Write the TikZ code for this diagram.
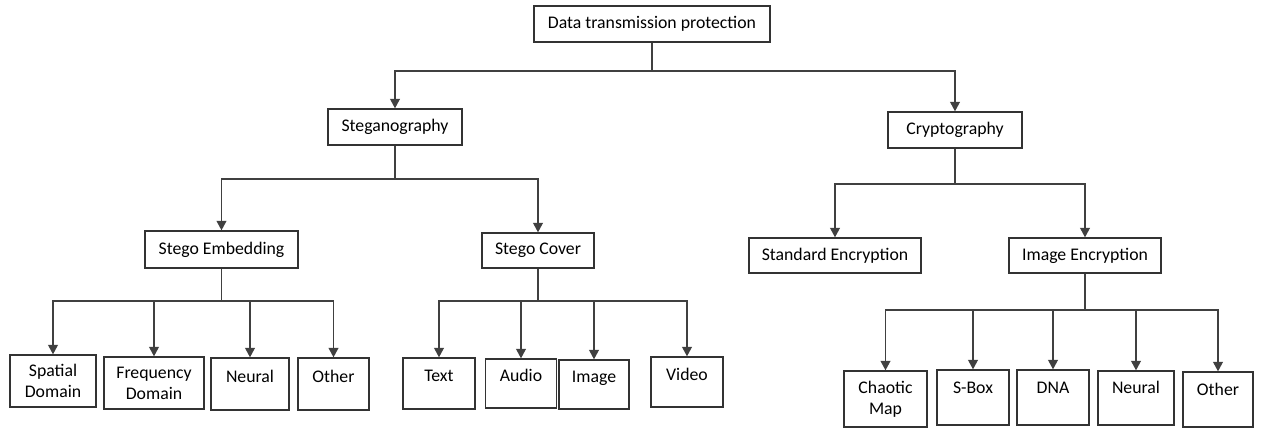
\documentclass[tikz,border=0pt]{standalone}
\usepackage{fontspec}
\setmainfont{Carlito}
\usetikzlibrary{arrows.meta}
\tikzset{
  box/.style={draw=black!80, line width=0.75pt, fill=white, font=\fontsize{10.1}{12}\selectfont, align=center, inner sep=2pt},
  boxsize/.style 2 args={minimum width=#1*0.02cm, minimum height=#2*0.02cm},
  uptext/.style={text height=8pt, text depth=#1},
  conn/.style={draw=black!75, line width=0.75pt, -{Triangle[width=5.6pt,length=5.4pt]}},
}
\begin{document}
\begin{tikzpicture}[x=0.02cm, y=-0.02cm]
  \useasboundingbox (0,0) rectangle (1261,428);
  % Root
  \node[box, boxsize={236}{36}] (root) at (652,24) {Data transmission protection};
  % Main branches
  \node[box, boxsize={134}{36}] (steg)  at (395,127) {Steganography};
  \node[box, boxsize={134}{36}] (crypt) at (955,130) {Cryptography};
  % Steganography branch
  \node[box, boxsize={153}{37}] (embed) at (221.5,249.5) {Stego Embedding};
  \node[box, boxsize={112}{35}] (cover) at (538,250.5) {Stego Cover};
  % Cryptography branch
  \node[box, boxsize={172}{35}] (stdenc) at (835,255.5) {Standard Encryption};
  \node[box, boxsize={152}{35}] (imgenc) at (1085,255.5) {Image Encryption};
  % Leaves under Stego Embedding
  \node[box, boxsize={86}{52}]  (spatial) at (53,381)    {Spatial\\Domain};
  \node[box, boxsize={100}{52}] (freq)    at (154,383)   {Frequency\\Domain};
  \node[box, boxsize={78}{52}, uptext=10pt] (eneural) at (250,384)   {Neural};
  \node[box, boxsize={71}{52}, uptext=10pt] (eother)  at (333.5,384) {Other};
  % Leaves under Stego Cover
  \node[box, boxsize={72}{51}, uptext=10pt] (text)  at (439,383.5)   {Text};
  \node[box, boxsize={71}{49}, uptext=10pt] (audio) at (521,383.5)   {Audio};
  \node[box, boxsize={70}{49}, uptext=10pt] (image) at (594,384.5)   {Image};
  \node[box, boxsize={72}{50}, uptext=10pt] (video) at (687,382)     {Video};
  % Leaves under Image Encryption
  \node[box, boxsize={83}{56}] (chaotic) at (885.5,399) {Chaotic\\Map};
  \node[box, boxsize={72}{55}, uptext=12.8pt] (sbox)    at (973,397.5)  {S-Box};
  \node[box, boxsize={72}{55}, uptext=12.8pt] (dna)     at (1053,397.5) {DNA};
  \node[box, boxsize={76}{54}, uptext=12.8pt] (ineural) at (1136,398)   {Neural};
  \node[box, boxsize={70}{55}, uptext=12.8pt] (iother)  at (1218,399.5) {Other};
  % Bus lines
  \coordinate (rootbar)   at (0,71);
  \coordinate (stegbar)   at (0,179);
  \coordinate (cryptbar)  at (0,184);
  \coordinate (embedbar)  at (0,301);
  \coordinate (coverbar)  at (0,301);
  \coordinate (imgencbar) at (0,310);
  % Connectors
  \foreach \c in {steg,crypt}
    \draw[conn] (root.south) -- (root.south |- rootbar) -| (\c.north);
  \foreach \c in {embed,cover}
    \draw[conn] (steg.south) -- (steg.south |- stegbar) -| (\c.north);
  \foreach \c in {stdenc,imgenc}
    \draw[conn] (crypt.south) -- (crypt.south |- cryptbar) -| (\c.north);
  \foreach \c in {spatial,freq,eneural,eother}
    \draw[conn] (embed.south) -- (embed.south |- embedbar) -| (\c.north);
  \foreach \c in {text,audio,image,video}
    \draw[conn] (cover.south) -- (cover.south |- coverbar) -| (\c.north);
  \foreach \c in {chaotic,sbox,dna,ineural,iother}
    \draw[conn] (imgenc.south) -- (imgenc.south |- imgencbar) -| (\c.north);
\end{tikzpicture}
\end{document}
